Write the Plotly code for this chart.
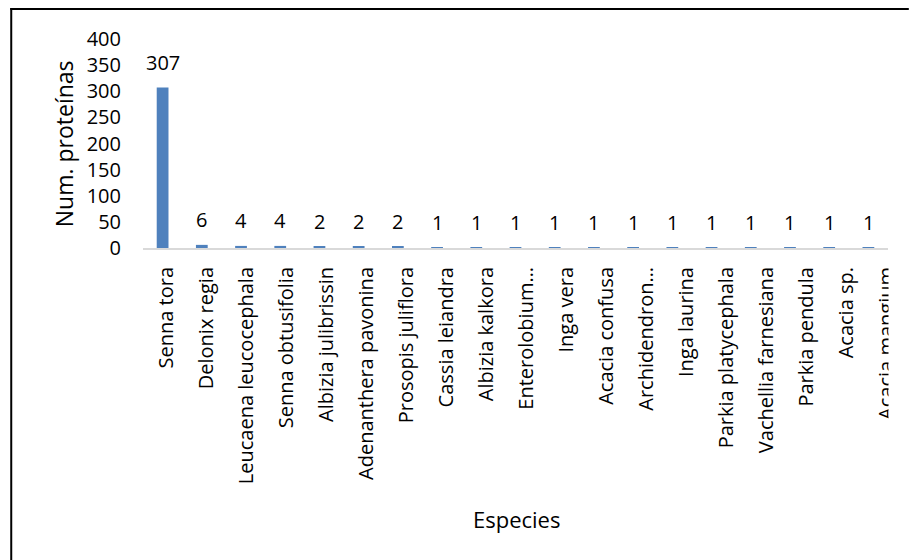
import plotly.graph_objects as go

especies = ["Senna tora", "Delonix regia", "Leucaena leucocephala", "Senna obtusifolia",
            "Albizia julibrissin", "Adenanthera pavonina", "Prosopis juliflora", "Cassia leiandra",
            "Albizia kalkora", "Enterolobium\u2026", "Inga vera", "Acacia confusa",
            "Archidendron\u2026", "Inga laurina", "Parkia platycephala", "Vachellia farnesiana",
            "Parkia pendula", "Acacia sp.", "Acacia mangium"]
num_proteinas = [307, 6, 4, 4, 2, 2, 2, 1, 1, 1, 1, 1, 1, 1, 1, 1, 1, 1, 1]
y_ticks = [0, 50, 100, 150, 200, 250, 300, 350, 400]

W, H = 911, 560
ML, MR, MT, MB = 143, 16, 39, 312
PW, PH = W - ML - MR, H - MT - MB
N = len(especies)
UNIT = PW / N  # pixels per category

def px(x):
    return (x - ML) / PW

def py(y):
    return (H - MB - y) / PH

# category tick labels are spread slightly wider than the bars (as in the original)
LABEL_START, LABEL_STEP = 166.5, 40.4
label_pos = [(LABEL_START + LABEL_STEP * i - ML) / UNIT - 0.5 for i in range(N)]

FONT = "Open Sans"
BAR = "#4F81BD"

fig = go.Figure()
fig.add_trace(go.Bar(x=especies, y=num_proteinas, marker_color=BAR,
                     marker_line_width=0, hoverinfo="skip"))

annotations = []
for e, v in zip(especies, num_proteinas):
    annotations.append(dict(x=e, y=v, xref="x", yref="y", text=str(v), showarrow=False,
                            yanchor="middle", yshift=25,
                            font=dict(family=FONT, size=20, color="#000000")))

annotations.append(dict(x=px(63), y=py(143.5), xref="paper", yref="paper",
                        text="Num. proteínas", textangle=-90, showarrow=False,
                        xanchor="center", yanchor="middle",
                        font=dict(family=FONT, size=23, color="#000000")))
annotations.append(dict(x=px(520), y=py(519), xref="paper", yref="paper",
                        text="Especies", showarrow=False,
                        xanchor="center", yanchor="middle",
                        font=dict(family=FONT, size=22, color="#000000")))

shapes = [
    dict(type="rect", xref="paper", yref="paper", x0=px(895.5), x1=px(W + 5),
         y0=py(H + 5), y1=py(251), fillcolor="white", line_width=0, layer="above"),
    dict(type="line", xref="paper", yref="paper", x0=px(9), x1=px(W + 5),
         y0=py(9), y1=py(9), line=dict(color="black", width=2), layer="above"),
    dict(type="line", xref="paper", yref="paper", x0=px(10), x1=px(10),
         y0=py(8), y1=py(H + 5), line=dict(color="black", width=2), layer="above"),
]

fig.update_layout(
    width=W, height=H,
    margin=dict(l=ML, r=MR, t=MT, b=MB, pad=0),
    plot_bgcolor="white", paper_bgcolor="white",
    showlegend=False, bargap=0.7,
    font=dict(family=FONT, size=20, color="#000000"),
    xaxis=dict(type="category", range=[-0.5, N - 0.5], showticklabels=False,
               showline=True, linecolor="#D9D9D9", linewidth=1.5, showgrid=False,
               ticks="", zeroline=False, fixedrange=True),
    xaxis2=dict(overlaying="x", anchor="y", side="bottom", type="linear",
                range=[-0.5, N - 0.5], tickmode="array",
                tickvals=label_pos, ticktext=especies,
                tickangle=-90, showline=False, showgrid=False, zeroline=False, ticks="",
                ticklabelstandoff=14, ticklabeloverflow="allow",
                tickfont=dict(family=FONT, size=20, color="#000000"), fixedrange=True),
    yaxis=dict(range=[0, 400], tickmode="array", tickvals=y_ticks, showgrid=False,
               showline=False, zeroline=False, ticks="", ticklabelstandoff=21,
               tickfont=dict(family=FONT, size=20, color="#000000"), fixedrange=True),
    annotations=annotations,
    shapes=shapes,
)

# invisible trace to activate xaxis2
fig.add_trace(go.Scatter(x=[0], y=[0], xaxis="x2", yaxis="y", mode="markers",
                         marker=dict(opacity=0), hoverinfo="skip", showlegend=False))

fig.write_html("out.html")
